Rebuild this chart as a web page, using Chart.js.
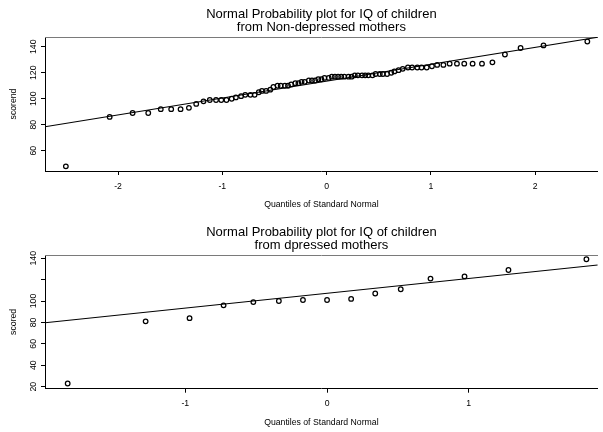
<!DOCTYPE html>
<html>
<head>
<meta charset="utf-8">
<script src="https://cdn.jsdelivr.net/npm/chart.js@4"></script>
<style>
  body { margin: 0; background: #fff; }
  canvas { display: block; }
</style>
</head>
<body>
<canvas id="top_plot" width="603" height="216"></canvas>
<canvas id="bottom_plot" width="603" height="216"></canvas>
<script>
// Non-depressed mothers: 80 children, normal quantiles vs sorted scores
const topQuantiles = [
  -2.50, -2.08, -1.86, -1.71, -1.59, -1.49, -1.40, -1.32, -1.25, -1.18,
  -1.12, -1.06, -1.01, -0.96, -0.91, -0.87, -0.82, -0.78, -0.73, -0.69,
  -0.65, -0.62, -0.58, -0.54, -0.51, -0.47, -0.44, -0.40, -0.37, -0.34,
  -0.30, -0.27, -0.24, -0.21, -0.17, -0.14, -0.11, -0.08, -0.05, -0.02,
  0.02, 0.05, 0.08, 0.11, 0.14, 0.17, 0.21, 0.24, 0.27, 0.30,
  0.34, 0.37, 0.40, 0.44, 0.47, 0.51, 0.54, 0.58, 0.62, 0.65,
  0.69, 0.73, 0.78, 0.82, 0.87, 0.91, 0.96, 1.01, 1.06, 1.12,
  1.18, 1.25, 1.32, 1.40, 1.49, 1.59, 1.71, 1.86, 2.08, 2.50
];
const topScores = [
  48, 86, 89, 89, 92, 92, 92, 93, 96, 98,
  99, 99, 99, 99, 100, 101, 102, 103, 103, 103,
  105, 106, 106, 107, 109, 110, 110, 110, 110, 111,
  112, 112, 113, 113, 114, 114, 114, 115, 115, 116,
  116, 117, 117, 117, 117, 117, 117, 117, 118, 118,
  118, 118, 118, 118, 119, 119, 119, 119, 120, 121,
  122, 123, 124, 124, 124, 124, 124, 125, 126, 126,
  127, 127, 127, 127, 127, 128, 134, 139, 141, 144
];
const topLineX = [-2.70, 2.60];
const topLineY = [78.4, 147.3];
const topXTicks = [-2, -1, 0, 1, 2];
const topYTicks = [60, 80, 100, 120, 140];
const topYLabels = ['60', '80', '100', '120', '140'];

// Depressed mothers: 15 children
const bottomQuantiles = [-1.83, -1.28, -0.97, -0.73, -0.52, -0.34, -0.17, 0, 0.17, 0.34, 0.52, 0.73, 0.97, 1.28, 1.83];
const bottomScores = [23, 81, 84, 96, 99, 100, 101, 101, 102, 107, 111, 121, 123, 129, 139];
const bottomLineX = [-1.99, 1.91];
const bottomLineY = [79.7, 133.6];
const bottomXTicks = [-1, 0, 1];
const bottomYTicks = [20, 40, 60, 80, 100, 120, 140];
const bottomYLabels = ['20', '40', '60', '80', '100', '', '140'];

Chart.defaults.font.family = "'Liberation Sans', Arial, sans-serif";
Chart.defaults.color = '#000';

const SMALL = { size: 8.7 };

function qqPlot(canvasId, cfg) {
  const points = cfg.quantiles.map((q, i) => ({ x: q, y: cfg.scores[i] }));
  const line = cfg.lineX.map((q, i) => ({ x: q, y: cfg.lineY[i] }));

  return new Chart(document.getElementById(canvasId), {
    type: 'scatter',
    data: {
      datasets: [
        {
          data: points,
          xAxisID: 'x', yAxisID: 'y',
          pointStyle: 'circle',
          pointRadius: 2.3,
          borderWidth: 1.25,
          borderColor: '#000',
          backgroundColor: 'rgba(0,0,0,0)'
        },
        {
          type: 'line',
          data: line,
          xAxisID: 'x', yAxisID: 'y',
          borderColor: '#000',
          borderWidth: 1.1,
          pointRadius: 0,
          fill: false
        }
      ]
    },
    options: {
      responsive: false,
      animation: false,
      devicePixelRatio: 1,
      layout: { padding: 0 },
      plugins: {
        legend: { display: false },
        tooltip: { enabled: false },
        title: {
          display: true,
          text: cfg.title,
          fullSize: false,
          color: '#000',
          font: { size: 13, weight: 'normal', lineHeight: 1 },
          padding: cfg.titlePadding
        }
      },
      scales: {
        x: {
          type: 'linear',
          position: 'bottom',
          min: cfg.xMin,
          max: cfg.xMax,
          afterBuildTicks: s => { s.ticks = cfg.xTicks.map(v => ({ value: v })); },
          afterFit: s => { s.height = cfg.xAxisHeight; },
          ticks: { font: SMALL, padding: cfg.xTickPadding, maxRotation: 0 },
          grid: { drawOnChartArea: false, tickLength: 4, color: '#000' },
          border: { color: '#000', width: 1 },
          title: {
            display: true,
            text: 'Quantiles of Standard Normal',
            font: SMALL,
            padding: { top: 0, bottom: cfg.xTitlePadding }
          }
        },
        y: {
          type: 'linear',
          position: 'left',
          min: cfg.yMin,
          max: cfg.yMax,
          afterBuildTicks: s => { s.ticks = cfg.yTicks.map(v => ({ value: v })); },
          afterFit: s => { s.width = 45; },
          ticks: {
            font: SMALL,
            padding: 0.5,
            minRotation: 90,
            maxRotation: 90,
            crossAlign: 'center',
            callback: (v, i) => cfg.yLabels[i]
          },
          grid: { drawOnChartArea: false, tickLength: 4, color: '#000' },
          border: { color: '#000', width: 1 },
          title: {
            display: true,
            text: cfg.yTitle,
            font: SMALL,
            padding: { top: 8.1, bottom: 0 }
          }
        },
        frame: {
          type: 'linear',
          position: 'top',
          afterFit: s => { s.height = 0; },
          ticks: { display: false },
          grid: { display: false },
          border: { color: '#7a7a7a', width: 1 }
        }
      }
    }
  });
}

qqPlot('top_plot', {
  title: ['Normal Probability plot for IQ of children', 'from Non-depressed mothers'],
  titlePadding: { top: 7.5, bottom: 3.5 },
  quantiles: topQuantiles,
  scores: topScores,
  lineX: topLineX,
  lineY: topLineY,
  xTicks: topXTicks,
  yTicks: topYTicks,
  yLabels: topYLabels,
  yTitle: 'scorend',
  xMin: -2.70, xMax: 2.60,
  yMin: 44.4, yMax: 147.5,
  xAxisHeight: 45,
  xTickPadding: 6.8,
  xTitlePadding: 5.8
});

qqPlot('bottom_plot', {
  title: ['Normal Probability plot for IQ of children', 'from dpressed mothers'],
  titlePadding: { top: 10, bottom: 3 },
  quantiles: bottomQuantiles,
  scores: bottomScores,
  lineX: bottomLineX,
  lineY: bottomLineY,
  xTicks: bottomXTicks,
  yTicks: bottomYTicks,
  yLabels: bottomYLabels,
  yTitle: 'scored',
  xMin: -1.99, xMax: 1.91,
  yMin: 18.1, yMax: 143,
  xAxisHeight: 43.3,
  xTickPadding: 6.1,
  xTitlePadding: 4.1
});
</script>
</body>
</html>
